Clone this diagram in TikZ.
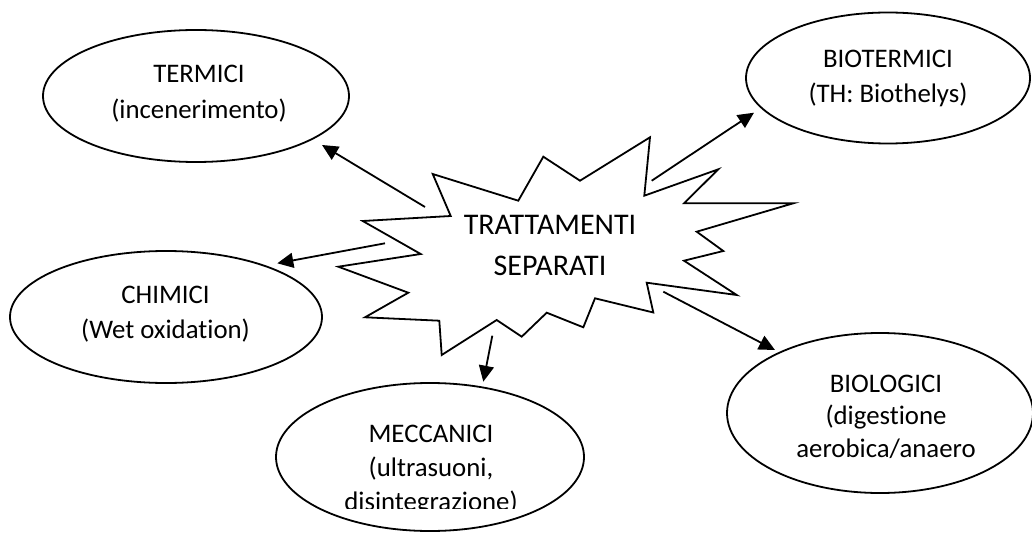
\documentclass[tikz,border=0pt]{standalone}
\usepackage{fontspec}
\setmainfont{Carlito}[Ligatures=NoCommon]
\usetikzlibrary{shapes.geometric,arrows.meta}
\begin{document}
\begin{tikzpicture}[x=0.5pt,y=-0.5pt,
  oval/.style={ellipse,draw,line width=0.9pt,inner sep=0pt},
  lbl/.style={align=center,inner sep=0pt},
  arr/.style={line width=0.9pt,-{Triangle[length=8pt,width=7.5pt]}},
  burst/.style={draw,line width=0.9pt,line join=miter}]
\useasboundingbox (0,0) rectangle (1032,534);
\clip (0,0) rectangle (1032,534);
\fill[white] (0,0) rectangle (1032,534);

% starburst
\draw[burst] (432.7,174) -- (518.3,200.7) -- (543.3,156.7) -- (580,180.7)
  -- (650,137.3) -- (644.3,195.7) -- (718.3,169.3) -- (684,203.3)
  -- (793.3,203.3) -- (696.7,231.7) -- (723.3,251) -- (684,260.7)
  -- (736.7,295) -- (646.7,282.7) -- (653.3,312.5) -- (595,298.3)
  -- (583.3,327.3) -- (546.7,312.7) -- (521.7,336.7) -- (496.7,320)
  -- (441.7,355) -- (439.3,320.7) -- (365,317.3) -- (408.3,292.7)
  -- (338.3,266.7) -- (420.7,254) -- (362.7,221) -- (450.7,216) -- cycle;
\node[lbl,font=\fontsize{15}{20.5}\selectfont] (centre) at (550,245) {TRATTAMENTI\\SEPARATI};

% ellipses
\node[oval,minimum width=153pt,minimum height=66pt] (termici) at (196,96) {};
\node[oval,minimum width=142pt,minimum height=65.5pt] (biotermici) at (888,78) {};
\node[oval,minimum width=156pt,minimum height=66pt] (chimici) at (166,317) {};
\node[oval,minimum width=154pt,minimum height=74pt] (meccanici) at (430,457) {};
\node[oval,minimum width=153pt,minimum height=80pt] (biologici) at (880,413) {};

% labels
\node[lbl,font=\fontsize{13.4}{18}\selectfont] (termicit) at (199,94) {TERMICI\\(incenerimento)};
\node[lbl,font=\fontsize{13.4}{17.5}\selectfont] (biotermicit) at (888,78.6) {BIOTERMICI\\(TH: Biothelys)};
\node[lbl,font=\fontsize{13.4}{17.65}\selectfont] (chimicit) at (165.5,314.3) {CHIMICI\\(Wet oxidation)};
\begin{scope}
\clip (0,0) rectangle (1032,508);
\node[lbl,font=\fontsize{13.4}{17}\selectfont] (meccanicit) at (431,470) {MECCANICI\\(ultrasuoni,\\disintegrazione)};
\end{scope}
\node[lbl,font=\fontsize{13.4}{16.25}\selectfont] (biologicit) at (886,416.7) {BIOLOGICI\\(digestione\\aerobica/anaero};

% arrows
\coordinate (t1) at (425,207);   \coordinate (h1) at (322,145);
\coordinate (t2) at (385,243.3); \coordinate (h2) at (277.3,263.3);
\coordinate (t3) at (492.3,335.7); \coordinate (h3) at (483.3,381.7);
\coordinate (t4) at (651.7,180.7); \coordinate (h4) at (754,112.7);
\coordinate (t5) at (663.3,291.7); \coordinate (h5) at (775,350);
\draw[arr] (t1) -- (h1);
\draw[arr] (t2) -- (h2);
\draw[arr] (t3) -- (h3);
\draw[arr] (t4) -- (h4);
\draw[arr] (t5) -- (h5);
\end{tikzpicture}
\end{document}
